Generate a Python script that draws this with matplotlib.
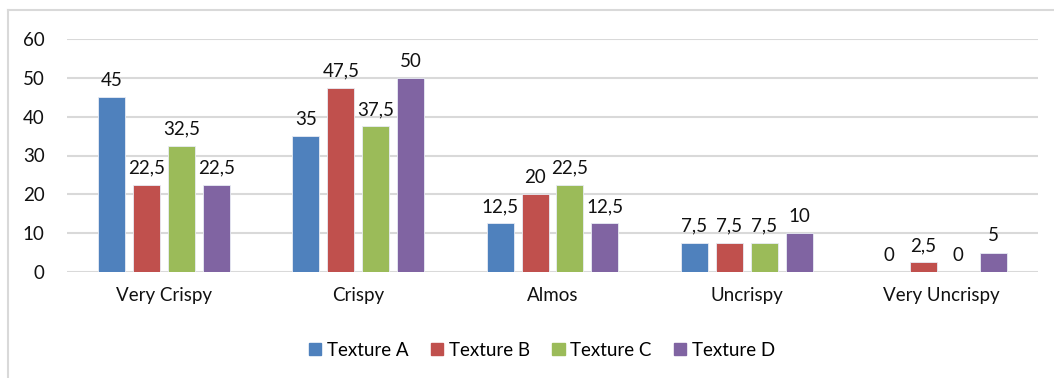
import matplotlib
matplotlib.use("Agg")
import matplotlib.pyplot as plt
from matplotlib.lines import Line2D
import numpy as np

categories = ["Very Crispy", "Crispy", "Almos", "Uncrispy", "Very Uncrispy"]
series_names = ["Texture A", "Texture B", "Texture C", "Texture D"]
texture_a = [45, 35, 12.5, 7.5, 0]
texture_b = [22.5, 47.5, 20, 7.5, 2.5]
texture_c = [32.5, 37.5, 22.5, 7.5, 0]
texture_d = [22.5, 50, 12.5, 10, 5]
y_ticks = [0, 10, 20, 30, 40, 50, 60]

colors = ["#4F81BD", "#C0504D", "#9BBB59", "#8064A2"]
plt.rcParams["font.family"] = ["Lato", "DejaVu Sans"]
FS = 13.5
TXT = "#111111"

W, H = 1054, 378
fig = plt.figure(figsize=(W / 100, H / 100), dpi=100)
ax = fig.add_axes([67 / W, 1 - 272 / H, (1038 - 67) / W, (272 - 39) / H])

x = np.arange(len(categories))
width = 0.139
step = 0.18
all_series = [texture_a, texture_b, texture_c, texture_d]

def fmt(v):
    s = f"{v:g}"
    return s.replace(".", ",")

for i, (vals, name, c) in enumerate(zip(all_series, series_names, colors)):
    pos = x + (i - 1.5) * step
    ax.bar(pos, vals, width, color=c, edgecolor="#E8ECF4", linewidth=0.6,
           label=name, zorder=3)
    for p, v in zip(pos, vals):
        ax.text(p, v + 4.3, fmt(v), ha="center", va="center", fontsize=FS,
                color=TXT)

ax.set_xlim(-0.5, len(categories) - 0.5)
ax.set_ylim(0, 60)
ax.set_yticks(y_ticks)
ax.set_yticklabels([str(t) for t in y_ticks], fontsize=FS, color=TXT)
ax.set_xticks(x)
ax.set_xticklabels(categories, fontsize=FS, color=TXT)
ax.tick_params(axis="both", length=0)
ax.tick_params(axis="y", pad=16)
ax.tick_params(axis="x", pad=11)
ax.grid(axis="y", color="#D9D9D9", linewidth=1.5, zorder=0)
for s in ax.spines.values():
    s.set_visible(False)

handles = [plt.Rectangle((0, 0), 1, 1, color=c) for c in colors]
fig.legend(handles, series_names, loc="center", bbox_to_anchor=(542 / W, 1 - 350 / H),
           ncol=4, frameon=False, fontsize=FS, handlelength=0.65, handleheight=0.65,
           handletextpad=0.3, columnspacing=1.2)

# chart area border (top and left edges)
fig.add_artist(Line2D([8 / W, 1.0], [1 - 10 / H, 1 - 10 / H], color="#D9D9D9",
                      linewidth=1.5, transform=fig.transFigure))
fig.add_artist(Line2D([8 / W, 8 / W], [0, 1 - 10 / H], color="#D9D9D9",
                      linewidth=1.5, transform=fig.transFigure))

fig.savefig("out.png", dpi=100)
